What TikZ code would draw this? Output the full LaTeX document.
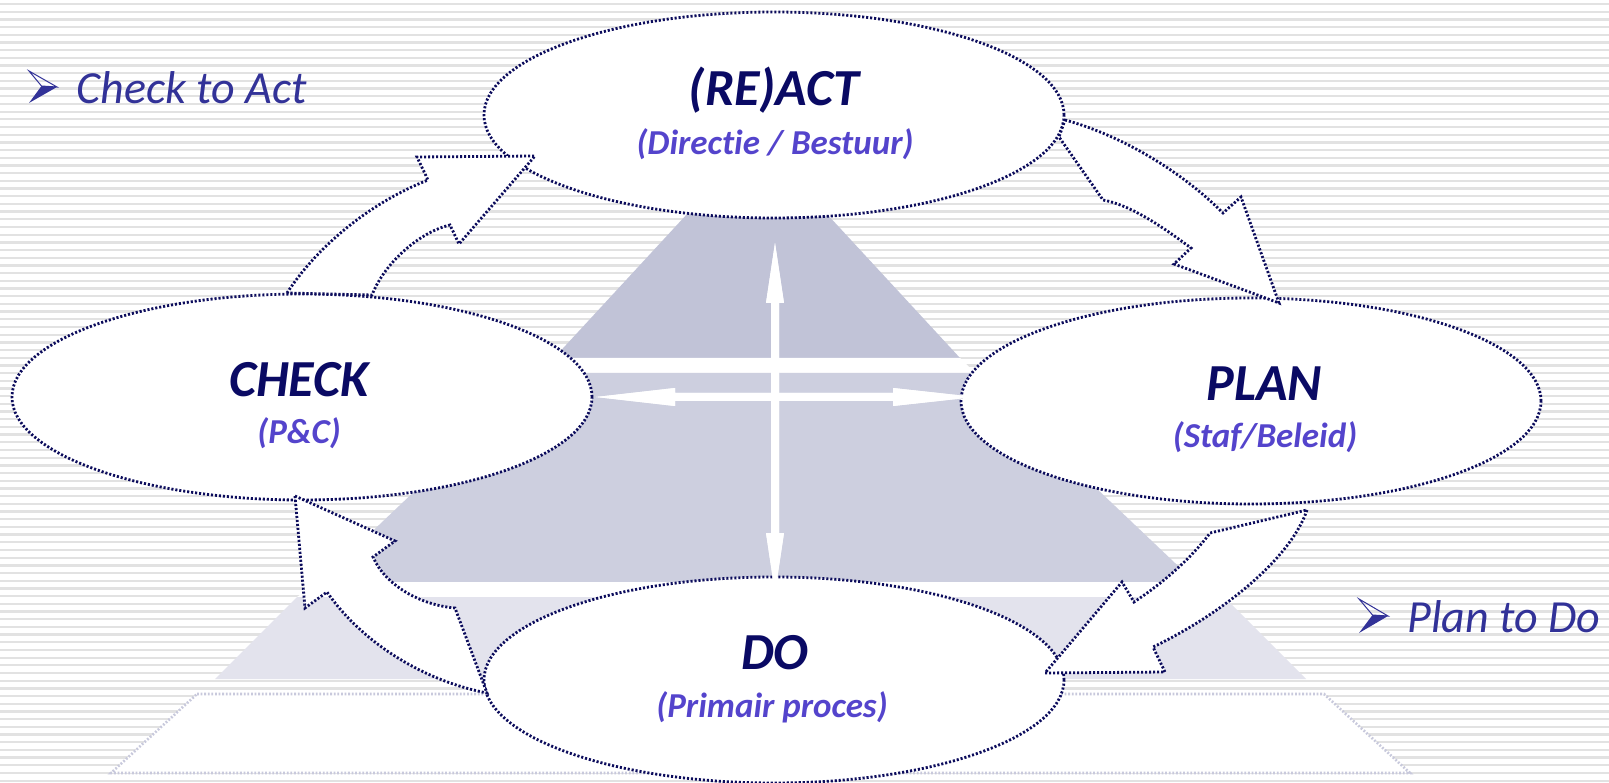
\documentclass[tikz,border=0pt]{standalone}
\usepackage{fontspec}
\setmainfont{Carlito}[Ligatures=NoCommon]
\usetikzlibrary{shapes.geometric}
\definecolor{stripe}{HTML}{E2E2E2}
\definecolor{layerA}{HTML}{C1C3D7}
\definecolor{layerB}{HTML}{CDCFDF}
\definecolor{layerC}{HTML}{E3E3ED}
\definecolor{basecol}{HTML}{C8C9DC}
\definecolor{lav}{HTML}{C5C7DB}
\definecolor{navy}{RGB}{12,12,92}
\definecolor{titlecol}{RGB}{10,10,100}
\definecolor{subcol}{RGB}{84,68,204}
\definecolor{notecol}{RGB}{50,50,152}
\tikzset{
  dotline/.style={navy, line width=2.8pt, dash pattern=on 2.1pt off 1.9pt},
  phase/.style={ellipse, draw, dotline, fill=white, minimum width=580pt, minimum height=206pt, inner sep=0pt},
  blockarrow/.style={dotline, fill=white, line join=miter},
  titletext/.style={anchor=base, text=titlecol, font=\fontsize{52}{56}\selectfont\bfseries\itshape},
  subtext/.style={anchor=base, text=subcol, font=\fontsize{35}{40}\selectfont\bfseries\itshape},
  notetext/.style={anchor=base west, text=notecol, font=\fontsize{46}{50}\selectfont\itshape},
  lavarrow/.style={lav, line width=3pt, fill=white, line join=miter},
  basebox/.style={draw=basecol, fill=white, line width=2.6pt, dash pattern=on 1.8pt off 1.8pt},
}
\begin{document}
\begin{tikzpicture}[x=1pt,y=-1pt]
\useasboundingbox (0,0) rectangle (1609,783);
\fill[white] (0,0) rectangle (1609,783);
\foreach \i in {0,...,101} \fill[stripe] (0,{2.85+\i*7.69}) rectangle (1609,{5.15+\i*7.69});
% pyramid
\fill[layerA] (700,200) -- (814,200) -- (960,358) -- (554,358) -- cycle;
\fill[white] (554,358) -- (960,358) -- (975,373) -- (539,373) -- cycle;
\fill[layerB] (539,373) -- (975,373) -- (1195,582) -- (319,582) -- cycle;
\fill[white] (319,582) -- (1195,582) -- (1224,597) -- (297,597) -- cycle;
\fill[layerC] (297,597) -- (1224,597) -- (1306,679) -- (215,679) -- cycle;
\path[basebox] (197,694) -- (1324,694) -- (1410,773) -- (111,773) -- cycle;
% phases
\node[phase] (act) at (774,115) {};
\node[phase] (check) at (302,397) {};
\node[phase] (plan) at (1251,401) {};
\node[phase] (do) at (774,680) {};
% center cross arrows
\coordinate (vtop) at (775,243);
\coordinate (vbot) at (775,593);
\coordinate (hleft) at (596,397);
\coordinate (hright) at (975,397);
\foreach \pass in {1,2}{
  \ifnum\pass=1 \tikzset{crossstyle/.style={lavarrow}}\else\tikzset{crossstyle/.style={fill=white, draw=none}}\fi
  \path[crossstyle] (vtop) -- ++(9,60) -- ++(-5,0) -- (779,533) -- ++(5,0) -- (vbot) -- (766,533) -- ++(5,0) -- (771,303) -- ++(-5,0) -- cycle;
  \path[crossstyle] (hleft) -- (675,388) -- ++(0,5) -- (893,393) -- ++(0,-5) -- (hright) -- (893,406) -- ++(0,-5) -- (675,401) -- ++(0,5) -- cycle;
}
% block arrows
\draw[blockarrow] (287,293) .. controls (315,250) and (365,205) .. (428,180) -- (417,157) -- (535,156) -- (459,244) -- (450,225) .. controls (420,232) and (385,262) .. (372,295) -- cycle;
\draw[blockarrow] (1065,120) .. controls (1120,135) and (1180,170) .. (1223,213) -- (1241,197) -- (1279,303) -- (1174,264) -- (1191,248) .. controls (1160,225) and (1130,205) .. (1103,200) -- (1059,137) -- cycle;
\draw[blockarrow] (1307,510) .. controls (1290,560) and (1220,615) .. (1153,647) -- (1165,672) -- (1045,673) -- (1122,582) -- (1134,602) .. controls (1160,585) and (1190,560) .. (1210,533) -- cycle;
\draw[blockarrow] (295,496) -- (395,541) -- (373,557) .. controls (385,585) and (420,605) .. (455,608) -- (487,693) .. controls (420,680) and (360,640) .. (327,592) -- (305,608) -- cycle;
% texts
\node[titletext] (actT) at (774,106) {(RE)ACT};
\node[subtext] (actS) at (775,155) {(Directie / Bestuur)};
\node[titletext] (checkT) at (299,397) {CHECK};
\node[subtext] (checkS) at (299,443) {(P\&C)};
\node[titletext] (planT) at (1264,400) {PLAN};
\node[subtext] (planS) at (1265,447) {(Staf/Beleid)};
\node[titletext] (doT) at (775,669) {DO};
\node[subtext] (doS) at (772,717) {(Primair proces)};
% notes
\fill[notecol] (29,103) -- (57,87) -- (41.5,86) -- cycle;
\draw[notecol, line width=1pt, line join=miter] (29,71) -- (57,87) -- (41.5,86) -- cycle;
\node[notetext] (note1) at (73,104) {Check to Act};
\fill[notecol] (1359,633) -- (1388,616) -- (1372.5,615) -- cycle;
\draw[notecol, line width=1pt, line join=miter] (1359,599) -- (1388,616) -- (1372.5,615) -- cycle;
\node[notetext] (note2) at (1404,632) {Plan to Do};
\end{tikzpicture}
\end{document}
